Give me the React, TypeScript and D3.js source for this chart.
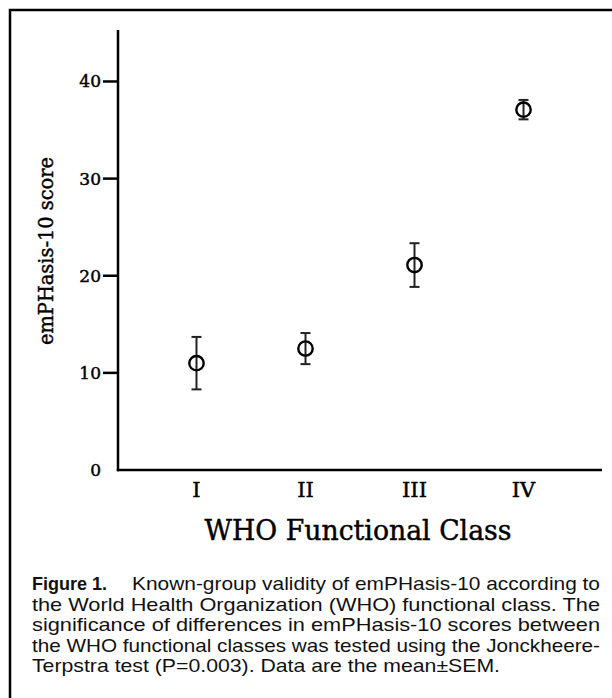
import React from 'react';
import { scaleLinear, scalePoint } from 'd3';

const classes = ['I', 'II', 'III', 'IV'];
const means = [11.0, 12.5, 21.1, 37.1];
const sem = [2.7, 1.6, 2.25, 1.0];
const yTicks = [0, 10, 20, 30, 40];

const captionLines = [
  'the World Health Organization (WHO) functional class. The',
  'significance of differences in emPHasis-10 scores between',
  'the WHO functional classes was tested using the Jonckheere-',
];

const serif = '"DejaVu Serif", "Liberation Serif", serif';
const sans = '"Liberation Sans", Arial, sans-serif';

export default function App() {
  const x = scalePoint<string>().domain(classes).range([118, 602]).padding(0.72);
  const y = scaleLinear().domain([0, 45.3]).range([470, 30]);
  const x0 = 118;
  const x1 = 602;

  const captionLeft = 32;
  const captionRight = 600;
  const lineY = [590, 611, 631, 652, 672];

  // slightly heavier serif text, closer to the original's Century face
  const heavy = { stroke: '#000', strokeWidth: 0.45 };

  return (
    <svg
      width={612}
      height={698}
      style={{ position: 'absolute', left: 0, top: 0, background: '#fff' }}
    >
      <rect x={10} y={10} width={620} height={700} fill="none" stroke="#000" strokeWidth={2.5} />

      {/* axes */}
      <line x1={x0} x2={x0} y1={y(45.3)} y2={y(0) + 1.2} stroke="#000" strokeWidth={2.5} />
      <line x1={x0 - 1.2} x2={x1} y1={y(0)} y2={y(0)} stroke="#000" strokeWidth={2.5} />

      {yTicks.map(t => (
        <g key={t}>
          {t > 0 && <line x1={x0 - 15} x2={x0} y1={y(t)} y2={y(t)} stroke="#000" strokeWidth={2.5} />}
          <text
            x={x0 - 17}
            y={y(t)}
            dy="0.35em"
            textAnchor="end"
            fontFamily={serif}
            fontSize={17}
            {...heavy}
          >
            {t}
          </text>
        </g>
      ))}

      {classes.map(c => (
        <text key={c} x={x(c)} y={497} textAnchor="middle" fontFamily={serif} fontSize={21} {...heavy}>
          {c}
        </text>
      ))}

      <text
        x={358}
        y={540}
        textAnchor="middle"
        fontFamily={serif}
        fontSize={27}
        textLength={307}
        lengthAdjust="spacingAndGlyphs"
        {...heavy}
      >
        WHO Functional Class
      </text>
      <text
        transform="translate(53,251) rotate(-90)"
        textAnchor="middle"
        fontFamily={serif}
        fontSize={21}
        textLength={188}
        lengthAdjust="spacingAndGlyphs"
        {...heavy}
      >
        emPHasis-10 score
      </text>

      {/* mean ± SEM */}
      {classes.map((c, i) => {
        const cx = x(c) as number;
        const top = y(means[i] + sem[i]);
        const bot = y(means[i] - sem[i]);
        return (
          <g key={c} stroke="#222" fill="none">
            <line x1={cx} x2={cx} y1={top} y2={bot} strokeWidth={2} />
            <line x1={cx - 5} x2={cx + 5} y1={top} y2={top} strokeWidth={2} />
            <line x1={cx - 5} x2={cx + 5} y1={bot} y2={bot} strokeWidth={2} />
            <circle cx={cx} cy={y(means[i])} r={7.2} stroke="#000" strokeWidth={2.4} fill="none" />
          </g>
        );
      })}

      {/* caption */}
      <g fontFamily={sans} fontSize={18.5} fill="#111">
        <text
          x={captionLeft}
          y={lineY[0]}
          fontFamily='"Liberation Sans Narrow", "Liberation Sans", Arial, sans-serif'
          fontWeight="bold"
          textLength={75}
          lengthAdjust="spacingAndGlyphs"
        >
          Figure 1.
        </text>
        <text x={132} y={lineY[0]} textLength={captionRight - 132} lengthAdjust="spacingAndGlyphs">
          Known-group validity of emPHasis-10 according to
        </text>
        {captionLines.map((l, i) => (
          <text
            key={i}
            x={captionLeft}
            y={lineY[i + 1]}
            textLength={captionRight - captionLeft}
            lengthAdjust="spacingAndGlyphs"
          >
            {l}
          </text>
        ))}
        <text x={captionLeft} y={lineY[4]} textLength={468} lengthAdjust="spacingAndGlyphs">
          Terpstra test (P=0.003). Data are the mean±SEM.
        </text>
      </g>
    </svg>
  );
}
